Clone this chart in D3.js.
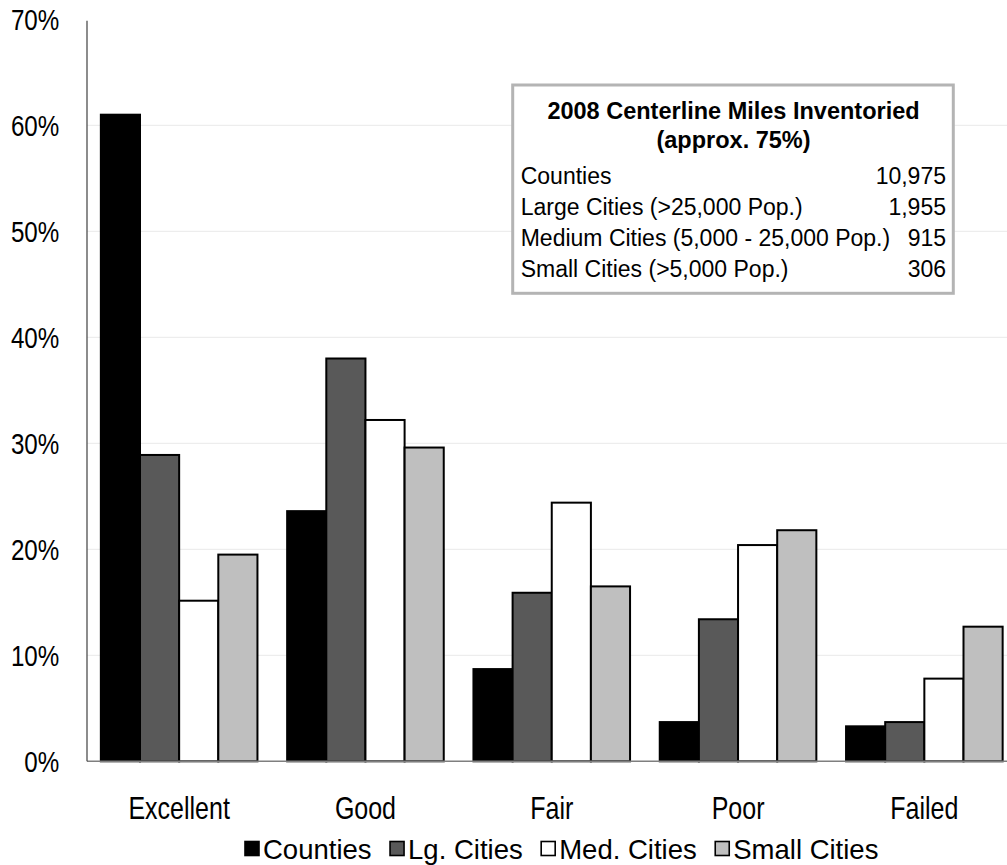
<!DOCTYPE html>
<html><head><meta charset="utf-8">
<script src="https://cdn.jsdelivr.net/npm/d3@7"></script>
<style>
html,body{margin:0;padding:0;background:#fff;}
svg{display:block;font-family:"Liberation Sans",Arial,sans-serif;}
</style></head>
<body>
<svg id="chart" width="1007" height="865"></svg>
<script>
const categories = ["Excellent", "Good", "Fair", "Poor", "Failed"];
const seriesNames = ["Counties", "Lg. Cities", "Med. Cities", "Small Cities"];
const counties   = [61.0, 23.6, 8.7, 3.7, 3.3];
const lgCities   = [28.9, 38.0, 15.9, 13.4, 3.7];
const medCities  = [15.15, 32.2, 24.4, 20.4, 7.8];
const smallCities= [19.5, 29.6, 16.5, 21.8, 12.7];
const yTicks = [0, 10, 20, 30, 40, 50, 60, 70];
const boxTitle = ["2008 Centerline Miles Inventoried", "(approx. 75%)"];
const boxLabels = ["Counties", "Large Cities (>25,000 Pop.)", "Medium Cities (5,000 - 25,000 Pop.)", "Small Cities (>5,000 Pop.)"];
const boxValues = ["10,975", "1,955", "915", "306"];

const colors = ["#000000", "#595959", "#ffffff", "#bfbfbf"];
const seriesValues = [counties, lgCities, medCities, smallCities];
const NARROW = 0.82;

const svg = d3.select("#chart");
const x0 = 86, x1 = 1017.5, yBot = 761.3, yTop = 19.3;

const x = d3.scaleBand().domain(categories).range([x0, x1]).paddingInner(0.1594).paddingOuter(0.0797);
const xs = d3.scaleBand().domain(seriesNames).range([0, x.bandwidth()]);
const y = d3.scaleLinear().domain([0, 70]).range([yBot, yTop]);

// gridlines
svg.append("g").selectAll("line").data(yTicks.filter(d => d > 0 && d < 70)).join("line")
  .attr("x1", 87).attr("x2", 1007)
  .attr("y1", d => y(d)).attr("y2", d => y(d))
  .attr("stroke", "#ededed").attr("stroke-width", 1.2);

// bars
const data = [];
categories.forEach((c, i) => seriesNames.forEach((s, j) => data.push({c, s, j, v: seriesValues[j][i]})));
svg.append("g").selectAll("rect").data(data).join("rect")
  .attr("x", d => x(d.c) + xs(d.s))
  .attr("y", d => y(d.v))
  .attr("width", xs.bandwidth())
  .attr("height", d => y(0) - y(d.v))
  .attr("fill", d => colors[d.j])
  .attr("stroke", "#000").attr("stroke-width", 2);

// baseline
svg.append("line").attr("x1", 87).attr("x2", 1007).attr("y1", y(0)).attr("y2", y(0))
  .attr("stroke", "#7f7f7f").attr("stroke-width", 1.5);

// y axis
const yAxis = svg.append("g").attr("transform", "translate(87,0)")
  .call(d3.axisLeft(y).tickValues(yTicks).tickFormat(d => d + "%").tickSize(0));
yAxis.select(".domain").remove();
yAxis.append("line").attr("x1", 0).attr("x2", 0).attr("y1", 20.7).attr("y2", y(0)).attr("stroke", "#404040").attr("stroke-width", 1.2);
yAxis.selectAll("text")
  .attr("font-family", "'Liberation Sans',Arial,sans-serif")
  .attr("font-size", 29.5).attr("fill", "#000")
  .attr("x", -27.7 / NARROW).attr("dy", "0.36em")
  .attr("transform", `scale(${NARROW},1)`);

// x axis
const xAxis = svg.append("g").attr("transform", `translate(0,${yBot})`)
  .call(d3.axisBottom(x).tickSize(0));
xAxis.select(".domain").remove();
xAxis.selectAll("text")
  .attr("font-family", "'Liberation Sans',Arial,sans-serif")
  .attr("font-size", 30.5).attr("fill", "#000")
  .attr("y", 819.5 - yBot).attr("dy", 0)
  .attr("transform", `scale(${NARROW},1)`);

// info box
const box = svg.append("g");
box.append("rect").attr("x", 512.7).attr("y", 85).attr("width", 440.6).attr("height", 208.3)
  .attr("fill", "#fff").attr("stroke", "#b4b4b4").attr("stroke-width", 3);
box.selectAll("text.title").data(boxTitle).join("text").attr("class", "title")
  .attr("x", 733.5).attr("y", (d, i) => i === 0 ? 119.3 : 147.5)
  .attr("text-anchor", "middle").attr("font-weight", "bold").attr("font-size", 23.5).attr("fill", "#000")
  .text(d => d);
const rowY = [184, 215, 246, 277];
box.selectAll("text.lab").data(boxLabels).join("text").attr("class", "lab")
  .attr("x", 520.7).attr("y", (d, i) => rowY[i])
  .attr("font-size", 23).attr("fill", "#000").text(d => d);
box.selectAll("text.val").data(boxValues).join("text").attr("class", "val")
  .attr("x", 946).attr("y", (d, i) => rowY[i]).attr("text-anchor", "end")
  .attr("font-size", 23).attr("fill", "#000").text(d => d);

// legend
const leg = svg.append("g");
let lx = 245;
seriesNames.forEach((s, j) => {
  leg.append("rect").attr("x", lx).attr("y", 841.5).attr("width", 14).attr("height", 14)
    .attr("fill", colors[j]).attr("stroke", "#000").attr("stroke-width", 1.6);
  const t = leg.append("text").attr("x", lx + 18).attr("y", 858.5)
    .attr("font-size", 27.5).attr("fill", "#000").text(s);
  lx += 18 + t.node().getComputedTextLength() + 18.5;
});
</script>
</body></html>
